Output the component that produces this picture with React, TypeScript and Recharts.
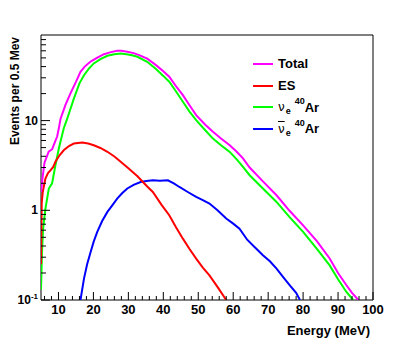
import { Legend, Line, LineChart, ReferenceArea, XAxis, YAxis } from "recharts";

const FONT = '"Liberation Sans", Arial, Helvetica, sans-serif';

// energies (MeV) and events per 0.5 MeV
const totalE = [5, 5.5, 6, 7.2, 8.2, 9, 9.6, 10.1, 10.6, 12, 13.4, 15, 16.3, 17.5, 19.2, 21, 23, 25, 26.8, 28, 29.7, 31.5, 33.1, 35.4, 37.9, 40, 41.7, 43.5, 45.6, 47.5, 49.4, 52, 54.2, 56.5, 59, 61, 62.8, 64.7, 68.5, 72.4, 76, 80, 84, 87.6, 90, 92.4, 94, 95.8];
const totalV = [1.6, 2.4, 3.4, 4.5, 4.8, 5.8, 6.6, 8.2, 10.5, 15, 20, 27, 35, 40, 45.5, 50, 55, 58, 60, 60, 58.6, 56.5, 53.7, 49, 41.5, 35.5, 30.8, 24.5, 19.2, 14.8, 11.5, 9.0, 7.5, 6.3, 5.3, 4.5, 3.8, 3.0, 2.1, 1.47, 1.0, 0.68, 0.45, 0.29, 0.2, 0.146, 0.12, 0.1];

const esE = [5, 5.2, 5.5, 6.26, 7, 7.7, 8.5, 9.13, 10.3, 11.5, 13, 14.4, 16.8, 18.5, 20.1, 22, 24, 26, 27.8, 30, 32.6, 35.4, 37, 39.5, 41.7, 43.5, 45.6, 47.5, 49.4, 51.3, 53.2, 55.5, 58];
const esV = [0.25, 1.2, 1.6, 2.26, 2.6, 2.79, 3.05, 3.47, 4.1, 4.67, 5.2, 5.55, 5.7, 5.55, 5.31, 4.95, 4.49, 3.98, 3.47, 2.95, 2.4, 1.84, 1.6, 1.15, 0.88, 0.66, 0.483, 0.37, 0.289, 0.23, 0.188, 0.14, 0.1];

const nueE = [5, 5.3, 5.6, 6.26, 7.24, 8.18, 9.13, 10.1, 11.5, 12.5, 14.4, 16, 17.3, 18.7, 20.1, 22, 24, 26, 27.8, 29.5, 31, 32.6, 35.4, 37.9, 40, 41.7, 43.5, 45.6, 47.5, 49.4, 52, 54.2, 56.5, 59, 61, 62.8, 64.7, 68.5, 72.4, 76, 80, 84, 87.6, 90, 92.4, 94.3];
const nueV = [0.13, 0.35, 0.62, 1.04, 1.75, 2.0, 3.18, 4.88, 8.16, 10.5, 17.6, 26, 32, 38, 43.4, 48.5, 52.8, 55, 56, 55, 53.5, 51.5, 45.3, 37.5, 31.5, 27.1, 21.5, 16.2, 12.6, 10.1, 7.8, 6.3, 5.3, 4.48, 3.7, 3.05, 2.46, 1.75, 1.24, 0.85, 0.574, 0.37, 0.243, 0.17, 0.123, 0.1];

const nuebarE = [16.3, 17.3, 18.2, 19.2, 20.1, 21.1, 22.5, 24, 25.5, 26.8, 28.2, 29.7, 31.5, 33.5, 35.2, 37, 39, 41.3, 43, 44.6, 47, 49.4, 51.3, 53.2, 55.5, 58, 60, 61.8, 64, 66.1, 68.5, 70.5, 72.4, 74.3, 76.2, 78, 79.1];
const nuebarV = [0.1, 0.173, 0.25, 0.343, 0.45, 0.574, 0.76, 0.96, 1.15, 1.35, 1.55, 1.75, 1.92, 2.07, 2.12, 2.16, 2.14, 2.16, 2.0, 1.82, 1.6, 1.41, 1.3, 1.19, 1.0, 0.81, 0.71, 0.625, 0.47, 0.39, 0.315, 0.27, 0.224, 0.18, 0.146, 0.12, 0.1];

const xMajor = [10, 20, 30, 40, 50, 60, 70, 80, 90, 100];
const xTicks = [6, 8, 10, 12, 14, 16, 18, 20, 22, 24, 26, 28, 30, 32, 34, 36, 38, 40, 42, 44, 46, 48, 50, 52, 54, 56, 58, 60, 62, 64, 66, 68, 70, 72, 74, 76, 78, 80, 82, 84, 86, 88, 90, 92, 94, 96, 98, 100];
const yMajor = [0.1, 1, 10];
const yTicks = [0.1, 0.2, 0.3, 0.4, 0.5, 0.6, 0.7, 0.8, 0.9, 1, 2, 3, 4, 5, 6, 7, 8, 9, 10, 20, 30, 40, 50, 60, 70, 80];

const toRows = (xs: number[], vs: number[]) => xs.map((e, i) => ({ e, v: vs[i] }));

const series = [
  { key: "nue", data: toRows(nueE, nueV), color: "#00ff00" },
  { key: "nuebar", data: toRows(nuebarE, nuebarV), color: "#0000ff" },
  { key: "es", data: toRows(esE, esV), color: "#ff0000" },
  { key: "total", data: toRows(totalE, totalV), color: "#ff00ff" },
];

const XTick = ({ x, y, payload }: any) => {
  const v = payload.value;
  const major = xMajor.includes(v);
  return (
    <g>
      <line x1={x} x2={x} y1={y} y2={y - (major ? 8 : 4)} stroke="#000" />
      {major && (
        <text x={x} y={y + 14} textAnchor="middle" fontFamily={FONT} fontWeight="bold" fontSize={13} fill="#000">
          {v}
        </text>
      )}
    </g>
  );
};

const YTick = ({ x, y, payload }: any) => {
  const v = payload.value;
  const major = yMajor.some((m) => Math.abs(m - v) < 1e-9);
  return (
    <g>
      <line x1={x} x2={x + (major ? 9 : 5)} y1={y} y2={y} stroke="#000" />
      {major && (
        <text x={x - 3} y={y + 4} textAnchor="end" fontFamily={FONT} fontWeight="bold" fontSize={12} fill="#000">
          {v === 0.1 ? (
            <>
              <tspan>10</tspan>
              <tspan dy={-5} fontSize={8}>-1</tspan>
            </>
          ) : (
            v
          )}
        </text>
      )}
    </g>
  );
};

const nu = (bar: boolean) => (
  <>
    <span style={{ fontWeight: "normal", fontSize: 12, textDecoration: bar ? "overline" : "none", fontFamily: '"DejaVu Sans", sans-serif' }}>ν</span>
    <span style={{ fontSize: 9, position: "relative", top: 4, marginLeft: 1 }}>e</span>
    <span style={{ fontSize: 9, position: "relative", top: -6, marginLeft: 4 }}>40</span>
    <span>Ar</span>
  </>
);

const legendRows = [
  { color: "#ff00ff", label: <span>Total</span> },
  { color: "#ff0000", label: <span>ES</span> },
  { color: "#00ff00", label: nu(false) },
  { color: "#0000ff", label: nu(true) },
];

const LegendBox = () => (
  <div style={{ fontFamily: FONT, fontWeight: "bold", fontSize: 13, color: "#000" }}>
    {legendRows.map((r, i) => (
      <div key={i} style={{ display: "flex", alignItems: "center", height: 21.7, whiteSpace: "nowrap" }}>
        <svg width={20} height={4} style={{ marginRight: 5 }}>
          <line x1={0} x2={20} y1={2} y2={2} stroke={r.color} strokeWidth={2} />
        </svg>
        {r.label}
      </div>
    ))}
  </div>
);

export default function App() {
  return (
    <div style={{ position: "absolute", left: 0, top: 0, background: "#fff" }}>
      <LineChart width={415} height={351} margin={{ top: 35, right: 42, bottom: 50, left: 40 }}>
        <XAxis
          dataKey="e"
          type="number"
          domain={[5, 100]}
          allowDataOverflow
          ticks={xTicks}
          interval={0}
          tick={<XTick />}
          tickSize={0}
          tickMargin={0}
          tickLine={false}
          axisLine={false}
          height={1}
          label={{
            content: ({ viewBox }: any) => (
              <text x={viewBox.x + viewBox.width - 3} y={335} textAnchor="end" fontFamily={FONT} fontWeight="bold" fontSize={13} fill="#000">
                Energy (MeV)
              </text>
            ),
          }}
        />
        <YAxis
          type="number"
          scale="log"
          domain={[0.1, 90]}
          allowDataOverflow
          ticks={yTicks}
          interval={0}
          tick={<YTick />}
          tickSize={0}
          tickMargin={0}
          tickLine={false}
          axisLine={false}
          width={1}
          label={{
            content: ({ viewBox }: any) => (
              <text
                x={19}
                y={viewBox.y + 2}
                transform={`rotate(-90 19 ${viewBox.y + 2})`}
                textAnchor="end"
                fontFamily={FONT}
                fontWeight="bold"
                fontSize={12}
                fill="#000"
              >
                Events per 0.5 Mev
              </text>
            ),
          }}
        />
        {series.map((s) => (
          <Line
            key={s.key}
            data={s.data}
            dataKey="v"
            type="linear"
            stroke={s.color}
            strokeWidth={2}
            dot={false}
            isAnimationActive={false}
          />
        ))}
        <ReferenceArea x1={5} x2={100} y1={0.1} y2={90} fill="none" stroke="#000" strokeWidth={1} ifOverflow="visible" />
        <Legend
          layout="vertical"
          align="center"
          verticalAlign="middle"
          content={<LegendBox />}
          wrapperStyle={{ left: 253, top: 53, width: 130 }}
        />
      </LineChart>
    </div>
  );
}
